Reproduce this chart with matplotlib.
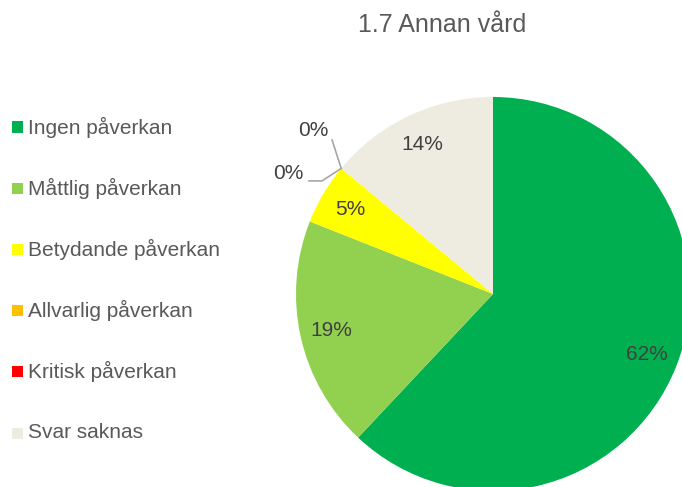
import numpy as np
import matplotlib.pyplot as plt
from matplotlib.patches import Rectangle

plt.rcParams['font.family'] = ['Liberation Sans', 'DejaVu Sans']

# data
categories = ['Ingen påverkan', 'Måttlig påverkan', 'Betydande påverkan',
              'Allvarlig påverkan', 'Kritisk påverkan', 'Svar saknas']
values = [62, 19, 5, 0, 0, 14]
colors = ['#00B050', '#92D050', '#FFFF00', '#FFC000', '#FF0000', '#EEECE1']
title = '1.7 Annan vård'

W, H = 682, 487
fig = plt.figure(figsize=(W / 100, H / 100), dpi=100)

# pie axes: centre (493, 294) px, radius 197 px, limits +-1.1
r_px = 197
half = 1.1 * r_px
ax = fig.add_axes([(493 - half) / W, (H - 294 - half) / H, 2 * half / W, 2 * half / H])

wedges, _, autotexts = ax.pie(values, colors=colors, startangle=90, counterclock=False,
                              radius=1, pctdistance=0.84,
                              autopct=lambda p: f'{p:.0f}%' if p > 0 else '',
                              wedgeprops=dict(linewidth=0),
                              textprops=dict(color='#404040', fontsize=15))
for w in wedges:
    w.set_clip_on(False)

# pie() resets the limits, so set them afterwards
ax.set_xlim(-1.1, 1.1)
ax.set_ylim(-1.1, 1.1)
ax.set_aspect('equal')
ax.axis('off')

# labels for the zero slices with leader lines
zero_idx = [i for i, v in enumerate(values) if v == 0]
ang = np.deg2rad(wedges[zero_idx[0]].theta1)
px, py = np.cos(ang), np.sin(ang)
# lower label (Allvarlig)
ax.plot([px, -0.868, -0.934], [py, 0.574, 0.574], color='#A6A6A6', lw=1.2, clip_on=False)
ax.text(-1.04, 0.614, f'{values[zero_idx[0]]}%', ha='center', va='center',
        color='#404040', fontsize=15)
# upper label (Kritisk)
ax.plot([px, -0.817], [py, 0.782], color='#A6A6A6', lw=1.2, clip_on=False)
ax.text(-0.914, 0.832, f'{values[zero_idx[1]]}%', ha='center', va='center',
        color='#404040', fontsize=15)

# title
fig.text(442 / W, 1 - 25 / H, title, ha='center', va='center', fontsize=18, color='#595959')

# legend
for i, (lab, c) in enumerate(zip(categories, colors)):
    yc = 127 + 61.2 * i
    fig.patches.append(Rectangle((12 / W, 1 - (yc + 5.5) / H), 11 / W, 11 / H,
                                 facecolor=c, edgecolor='none', transform=fig.transFigure))
    fig.text(28 / W, 1 - yc / H, lab, ha='left', va='center', fontsize=15, color='#595959')

fig.savefig('out.png', dpi=100)
